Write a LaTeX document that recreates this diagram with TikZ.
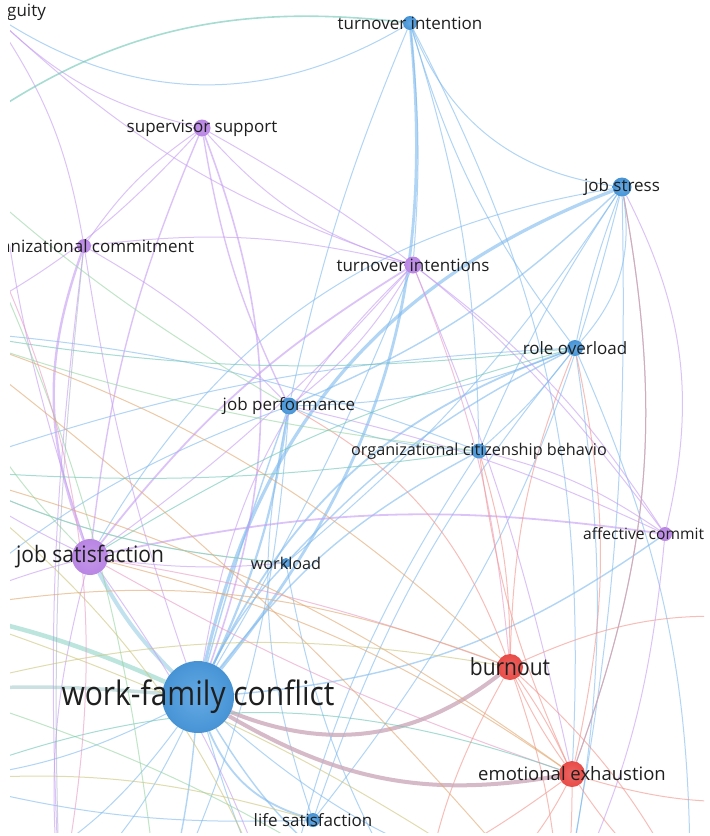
\documentclass[tikz,border=0pt]{standalone}
\usepackage{fontspec}
\setmainfont{Open Sans}
\pgfdeclarelayer{bg}
\pgfsetlayers{bg,main}
\definecolor{nblue}{HTML}{4A9BE0}
\definecolor{npurp}{HTML}{B985E4}
\definecolor{nred}{HTML}{E84B47}
\definecolor{cblue}{HTML}{7DB9EE}
\definecolor{cpurp}{HTML}{C69CF2}
\definecolor{cred}{HTML}{F3938A}
\definecolor{cteal}{HTML}{6CC6B4}
\definecolor{cgreen}{HTML}{96D4A2}
\definecolor{corange}{HTML}{E2A66E}
\definecolor{colive}{HTML}{CCC57A}
\definecolor{cpink}{HTML}{E99AC4}
\definecolor{cmauve}{HTML}{CCA9BA}
\definecolor{cgrey}{HTML}{A8B0C6}
\begin{document}
\begin{tikzpicture}[x=1pt,y=-1pt,
  bnode/.style={circle,inner sep=0,inner color=nblue!85!white,outer color=nblue!95!black},
  pnode/.style={circle,inner sep=0,inner color=npurp!85!white,outer color=npurp},
  rnode/.style={circle,inner sep=0,inner color=nred!85!white,outer color=nred},
  lab/.style={font=\fontsize{17}{19}\selectfont,text=black!88,inner sep=0},
  labs/.style={font=\fontsize{16.2}{18}\selectfont,text=black!88,inner sep=0},
  labm/.style={font=\fontsize{18.5}{20}\selectfont,text=black!88,inner sep=0},
  labl/.style={font=\fontsize{21}{23}\selectfont,text=black!88,inner sep=0},
  labh/.style={font=\fontsize{30}{32}\selectfont,text=black!88,inner sep=0},
  eb/.style={draw=cblue,line width=1pt,opacity=0.6},
  ep/.style={draw=cpurp,line width=1pt,opacity=0.6},
  er/.style={draw=cred,line width=1pt,opacity=0.6},
  et/.style={draw=cteal,line width=1pt,opacity=0.6},
  eg/.style={draw=cgreen,line width=1pt,opacity=0.6},
  eo/.style={draw=corange,line width=1pt,opacity=0.6},
  eol/.style={draw=colive,line width=1pt,opacity=0.6},
  epk/.style={draw=cpink,line width=1pt,opacity=0.6},
  em/.style={draw=cmauve,line width=1pt,opacity=0.8},
  egr/.style={draw=cgrey,line width=1pt,opacity=0.55}]
\useasboundingbox (0,0) rectangle (710,836);
\begin{scope}
\clip (8,0) rectangle (710,834);
% ---------------- nodes ----------------
\node[pnode,minimum size=14pt] (amb) at (-10,12) {};
\node[bnode,minimum size=14pt] (ti1) at (410,23) {};
\node[pnode,minimum size=17pt] (ss) at (202,128) {};
\node[pnode,minimum size=14pt] (oc) at (84,246) {};
\node[bnode,minimum size=19pt] (js) at (622,187) {};
\node[pnode,minimum size=17pt] (ti2) at (413,265) {};
\node[bnode,minimum size=16pt] (ro) at (575,348) {};
\node[bnode,minimum size=17pt] (jp) at (289,406) {};
\node[bnode,minimum size=15pt] (ocb) at (479,451) {};
\node[pnode,minimum size=14pt] (ac) at (665,534) {};
\node[pnode,minimum size=36pt] (jsat) at (90,557) {};
\node[bnode,minimum size=10pt] (wl) at (286,563) {};
\node[rnode,minimum size=26pt] (bo) at (510,667) {};
\node[bnode,minimum size=72pt] (wfc) at (198,697) {};
\node[rnode,minimum size=26pt] (ee) at (572,774) {};
\node[bnode,minimum size=14pt] (ls) at (313,820) {};
% off-canvas end points
\coordinate (xL1) at (-60,150);
\coordinate (xL2) at (-60,330);
\coordinate (xL3) at (-60,470);
\coordinate (xL4) at (-60,610);
\coordinate (xL5) at (-60,690);
\coordinate (xL6) at (-60,780);
\coordinate (xL7) at (-40,900);
\coordinate (xB1) at (60,900);
\coordinate (xB2) at (160,920);
\coordinate (xB3) at (280,920);
\coordinate (xB4) at (420,920);
\coordinate (xB5) at (560,920);
\coordinate (xB6) at (690,900);
\coordinate (xR1) at (780,620);
\coordinate (xR2) at (780,800);
% ---------------- labels ----------------
\node[lab,anchor=west] (ambL) at (7,12) {guity};
\node[lab] (ti1L) at (ti1) {turnover intention};
\node[lab] (ssL) at (ss) {supervisor support};
\node[lab,anchor=west] (ocL) at (1,246) {anizational commitment};
\node[lab] (jsL) at (js) {job stress};
\node[lab] (ti2L) at (ti2) {turnover intentions};
\node[lab] (roL) at (ro) {role overload};
\node[lab] (jpL) at (jp) {job performance};
\node[labs] (ocbL) at (ocb) {organizational citizenship behavio};
\node[labs,font=\fontsize{15.6}{17}\selectfont,anchor=west] (acL) at (583,534) {affective commit};
\node[labl] (jsatL) at (jsat) {\scalebox{1}[1.08]{job satisfaction}};
\node[labs] (wlL) at (wl) {workload};
\node[labl] (boL) at (bo) {\scalebox{1}[1.12]{burnout}};
\node[labh] (wfcL) at (wfc) {\scalebox{1}[1.12]{work-family conflict}};
\node[labm] (eeL) at (ee) {emotional exhaustion};
\node[lab] (lsL) at (ls) {life satisfaction};
\end{scope}
% ---------------- connectors ----------------
\begin{pgfonlayer}{bg}
\fill[white] (0,0) rectangle (710,836);
\clip (10,0) rectangle (704,832);
% blue, from work-family conflict
\draw[eb,line width=2.8pt] (wfc) to[bend right=22] (ti1);
\draw[eb,line width=3.2pt] (wfc) to[bend left=28] (js);
\draw[eb,line width=1.8pt] (wfc) to[bend left=22] (ro);
\draw[eb,line width=2.2pt] (wfc) to[bend right=8] (jp);
\draw[eb,line width=1.4pt] (wfc) to[bend left=12] (ocb);
\draw[eb,line width=1.4pt] (wfc) to[bend left=8] (wl);
\draw[eb,line width=1.8pt] (wfc) to[bend right=25] (ls);
\draw[eb,line width=4pt,draw=cblue!70!cteal,opacity=0.45] (wfc) to[bend left=8] (jsat);
\draw[eb] (wfc) to[bend left=10] (xB1);
\draw[eb,line width=1.4pt] (wfc) to[bend left=5] (xB2);
\draw[eb] (wfc) to[bend right=5] (xB3);
\draw[eb,line width=1.4pt] (wfc) to[bend right=15] (xB4);
\draw[eb] (wfc) to[bend right=20] (xB6);
\draw[eb] (wfc) to[bend left=15] (xL7);
\draw[eb] (wfc) to[bend left=10] (xL6);
\draw[eb,line width=1.4pt] (wfc) to[bend right=15] (ac);
\draw[eb] (wfc) to[bend right=4] (ti2);
\draw[eb,line width=1.4pt] (wfc) to[bend left=2] (jp);
% blue, others
\draw[eb] (ti1) to[bend right=30] (js);
\draw[eb] (ti1) to[bend right=10] (ro);
\draw[eb] (ti1) to[bend left=8] (ocb);
\draw[eb] (ti1) to[bend right=5] (jp);
\draw[eb] (ti1) to[bend left=32] (amb);
\draw[eb] (ti1) to[bend left=5] (ti2);
\draw[eb] (ti1) to[bend left=15] (ee);
\draw[eb] (js) to[bend left=25] (ro);
\draw[eb] (js) to[bend right=4] (ro);
\draw[eb] (js) to[bend right=5] (ocb);
\draw[eb,line width=1.4pt] (js) to[bend left=10] (jp);
\draw[eb] (js) to[bend left=8] (wl);
\draw[eb] (js) to[bend right=25] (jsat);
\draw[eb] (js) to[bend left=6] (xB5);
\draw[eb] (js) to[bend left=12] (ls);
\draw[em] (js) to[bend left=15] (ee);
\draw[eb] (ro) to[bend left=5] (ocb);
\draw[eb,line width=1.4pt] (ro) to[bend right=10] (wl);
\draw[eb] (ro) to[bend left=10] (jp);
\draw[eb] (ro) to[bend right=10] (ls);
\draw[eb] (ro) to[bend right=8] (xL3);
\draw[eb] (ro) to[bend left=10] (xB5);
\draw[eb] (ro) to[bend left=12] (xB6);
\draw[eb] (ocb) to[bend left=10] (jp);
\draw[eb] (ocb) to[bend right=8] (xL2);
\draw[eb] (ocb) to[bend right=10] (xB3);
\draw[eb] (jp) to[bend right=10] (xL4);
\draw[eb] (jp) to[bend left=10] (xB2);
\draw[eb] (jp) to[bend right=15] (ls);
\draw[eb] (wl) to[bend right=10] (xB4);
\draw[eb] (wl) to[bend left=10] (xL3);
\draw[eb] (ls) to[bend left=8] (xL6);
% purple
\draw[ep,line width=1.6pt] (wfc) to[bend right=20] (ss);
\draw[ep] (wfc) to[bend left=18] (ti2);
\draw[ep] (wfc) to[bend left=5] (oc);
\draw[ep] (ss) to[bend right=10] (oc);
\draw[ep,line width=1.4pt] (ss) to[bend right=8] (jsat);
\draw[ep] (ss) to[bend right=15] (ti2);
\draw[ep] (ss) to[bend left=10] (xL2);
\draw[ep] (ss) to[bend left=15] (amb);
\draw[ep,line width=1.4pt] (ss) to[bend right=8] (jp);
\draw[ep] (ss) to[bend left=12] (ac);
\draw[ep] (amb) to[bend right=12] (ti2);
\draw[ep] (amb) to[bend left=12] (oc);
\draw[ep] (amb) to[bend right=8] (jsat);
\draw[ep,line width=2.4pt] (oc) to[bend right=20] (jsat);
\draw[ep] (oc) to[bend left=10] (ti2);
\draw[ep] (oc) to[bend left=8] (jp);
\draw[ep] (oc) to[bend right=5] (xB1);
\draw[ep,line width=1.8pt] (ti2) to[bend right=10] (jsat);
\draw[ep] (ti2) to[bend left=6] (jsat);
\draw[ep] (ti2) to[bend left=10] (jp);
\draw[ep] (ti2) to[bend left=10] (ac);
\draw[epk] (ti2) to[bend left=8] (bo);
\draw[ep] (ti2) to[bend left=5] (ee);
\draw[ep,line width=1.8pt] (jsat) to[bend left=10] (ac);
\draw[ep] (ac) to[bend right=10] (ocb);
\draw[ep] (ac) to[bend right=6] (jp);
\draw[ep] (ac) to[bend left=10] (xB5);
\draw[ep] (ac) to[bend right=20] (js);
\draw[ep] (jsat) to[bend right=5] (xL4);
\draw[ep] (jsat) to[bend left=5] (xL3);
\draw[ep] (jsat) to[bend right=10] (xB1);
\draw[ep] (jsat) to[bend left=8] (xB3);
\draw[epk] (jsat) to[bend left=5] (bo);
\draw[epk] (jsat) to[bend right=5] (ee);
\draw[ep] (jsat) to[bend right=6] (wl);
% red
\draw[er] (bo) to[bend left=5] (ee);
\draw[er] (bo) to[bend right=5] (ee);
\draw[er] (bo) to[bend right=10] (xB4);
\draw[er] (bo) to[bend left=8] (xB5);
\draw[er] (bo) to[bend left=10] (xB6);
\draw[er] (bo) to[bend left=15] (xR1);
\draw[er] (bo) to[bend right=8] (ocb);
\draw[er] (bo) to[bend left=10] (ro);
\draw[er] (bo) to[bend right=20] (jp);
\draw[er] (ee) to[bend left=10] (xB3);
\draw[er] (ee) to[bend left=5] (xB5);
\draw[er] (ee) to[bend right=10] (xB6);
\draw[er] (ee) to[bend right=10] (xR2);
\draw[er] (ee) to[bend right=12] (ro);
\draw[er] (ee) to[bend left=8] (ocb);
\draw[em] (ee) to[bend right=15] (js);
\draw[er] (ee) to[bend left=20] (xB4);
% mauve heavy
\draw[em,line width=4pt] (wfc) to[bend right=30] (bo);
\draw[em,line width=4pt] (wfc) to[bend right=20] (ee);
% teal / green / orange / olive
\draw[et,line width=1.6pt] (ti1) to[bend right=22] (xL1);
\draw[et] (xL2) to[bend right=8] (ro);
\draw[et] (xL3) to[bend right=6] (ocb);
\draw[et,line width=4.5pt,opacity=0.45] (xL4) to[bend left=6] (wfc);
\draw[egr,line width=3.5pt,draw=cteal!50!cgrey,opacity=0.45] (xL5) to[bend left=4] (wfc);
\draw[eg] (xL1) to[bend left=10] (xB2);
\draw[eg] (xL2) to[bend right=6] (ocb);
\draw[eo] (xL2) to[bend left=12] (bo);
\draw[eo] (xL3) to[bend left=10] (ee);
\draw[eol] (xL4) to[bend left=8] (xB5);
\draw[eol] (xL6) to[bend left=10] (ls);
\draw[eg] (xL5) to[bend left=8] (xB4);
\draw[eo] (jsat) to[bend left=10] (ee);
\draw[egr] (oc) to[bend right=4] (xB1);
\draw[eg] (jsat) to[bend left=12] (xL2);
\draw[eg] (xL1) to[bend right=6] (jp);
\draw[et] (jsat) to[bend left=8] (ro);
\draw[eol] (xL3) to[bend left=15] (xB3);
\draw[eo] (xL4) to[bend left=15] (bo);
\draw[et] (xL6) to[bend left=20] (ee);
\draw[eol] (xL7) to[bend left=30] (xL3);
\draw[epk] (xL1) to[bend left=20] (xB1);
\draw[eg] (xL3) to[bend right=10] (wl);
\draw[eo] (xL2) to[bend left=6] (xB5);
\draw[eol] (xL5) to[bend left=12] (bo);
\end{pgfonlayer}
\end{tikzpicture}
\end{document}
